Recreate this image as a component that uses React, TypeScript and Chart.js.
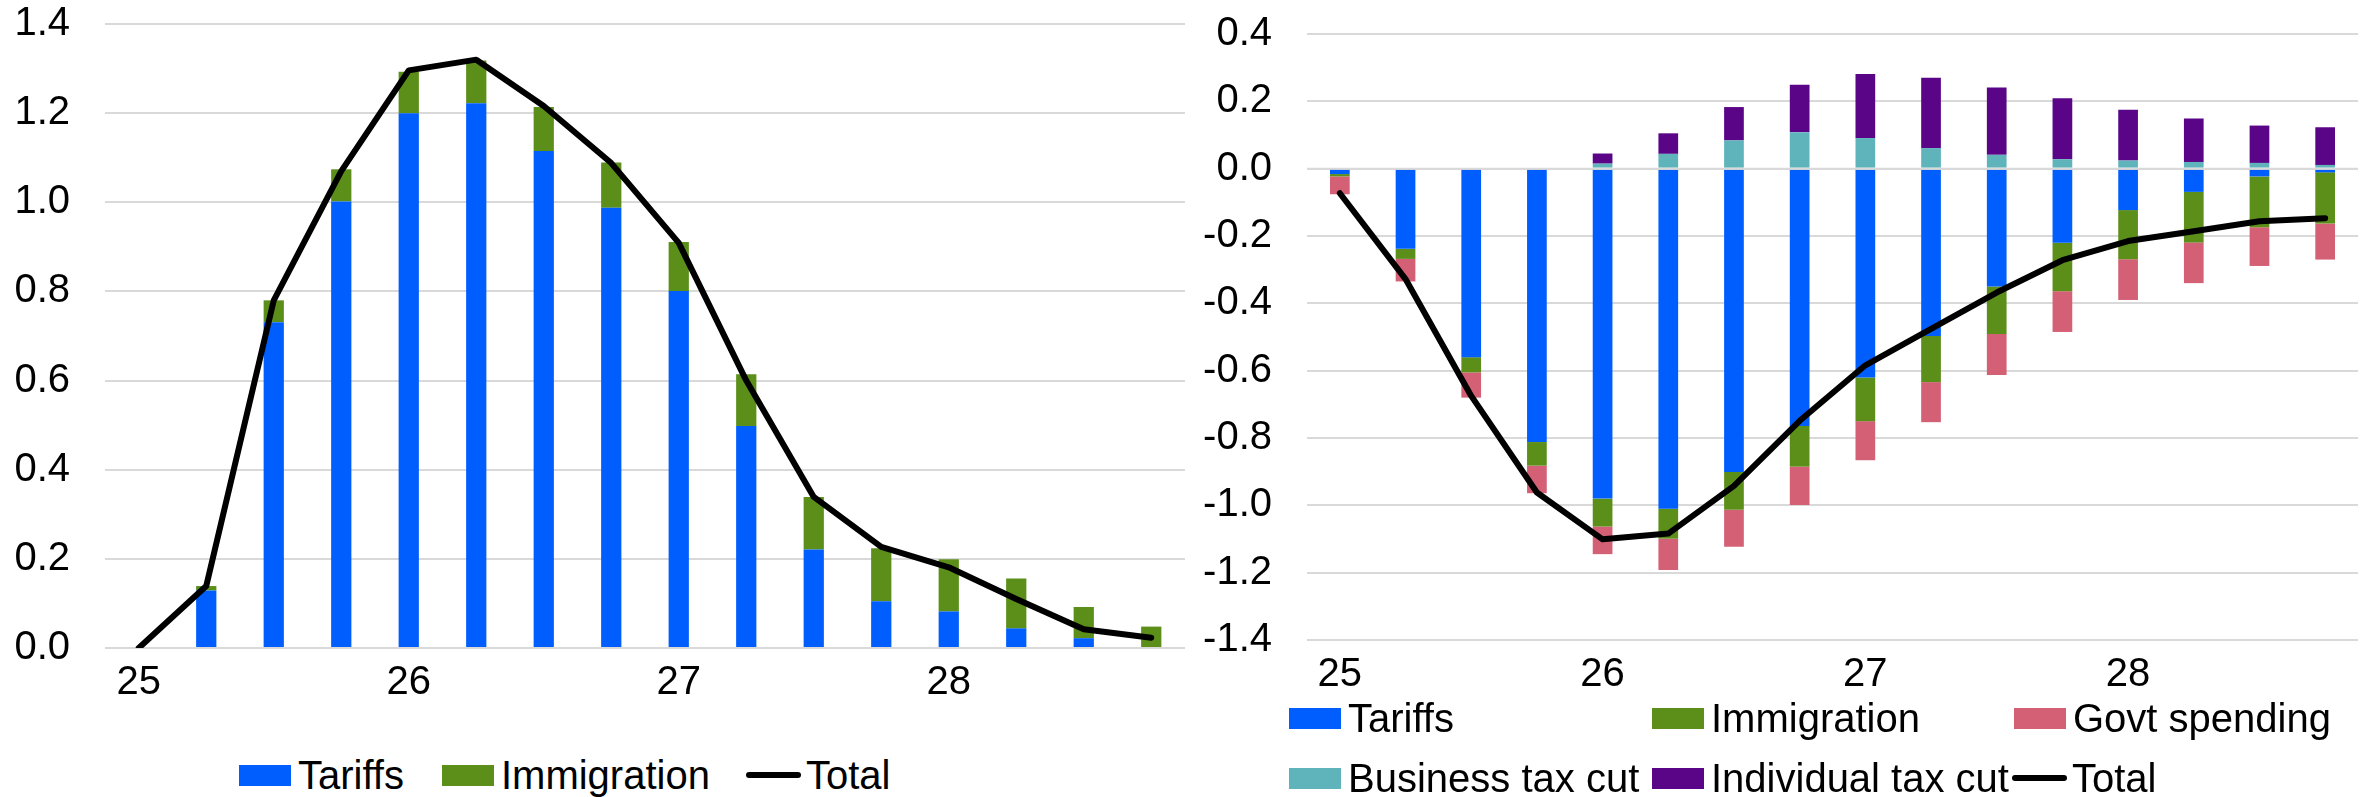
import React, { useEffect, useRef } from "react";
import { Chart, registerables } from "chart.js";

Chart.register(...registerables);

// ---------- Data ----------
const quarters = [
  "2025Q1", "2025Q2", "2025Q3", "2025Q4",
  "2026Q1", "2026Q2", "2026Q3", "2026Q4",
  "2027Q1", "2027Q2", "2027Q3", "2027Q4",
  "2028Q1", "2028Q2", "2028Q3", "2028Q4",
];
const xTickLabels = ["25", "", "", "", "26", "", "", "", "27", "", "", "", "28", "", "", ""];

// Left panel
const leftTariffs = [0, 0.129, 0.731, 1.002, 1.2, 1.222, 1.115, 0.988, 0.801, 0.498, 0.221, 0.105, 0.082, 0.044, 0.022, 0];
const leftImmigration = [0, 0.01, 0.049, 0.072, 0.093, 0.096, 0.099, 0.101, 0.11, 0.116, 0.118, 0.119, 0.117, 0.112, 0.07, 0.048];
const leftTotal = [0, 0.139, 0.78, 1.07, 1.296, 1.32, 1.216, 1.088, 0.909, 0.6, 0.339, 0.227, 0.181, 0.11, 0.042, 0.023];

// Right panel
const rightTariffs = [-0.016, -0.238, -0.56, -0.812, -0.98, -1.01, -0.901, -0.764, -0.62, -0.497, -0.35, -0.22, -0.123, -0.069, -0.023, -0.011];
const rightImmigration = [-0.007, -0.03, -0.045, -0.07, -0.083, -0.089, -0.112, -0.121, -0.13, -0.137, -0.141, -0.144, -0.146, -0.15, -0.151, -0.152];
const rightGovtSpending = [-0.053, -0.067, -0.075, -0.082, -0.082, -0.093, -0.11, -0.114, -0.116, -0.119, -0.122, -0.121, -0.121, -0.121, -0.115, -0.107];
const rightBusinessTax = [0, 0, 0, 0, 0.015, 0.044, 0.084, 0.108, 0.091, 0.061, 0.041, 0.028, 0.024, 0.02, 0.017, 0.011];
const rightIndividualTax = [0, 0, 0, 0, 0.03, 0.061, 0.099, 0.141, 0.19, 0.209, 0.2, 0.181, 0.151, 0.129, 0.111, 0.112];
const rightTotal = [-0.073, -0.328, -0.675, -0.962, -1.101, -1.084, -0.942, -0.749, -0.584, -0.476, -0.368, -0.272, -0.215, -0.186, -0.156, -0.147];

// ---------- Styles ----------
const FONT = "'Liberation Sans', Arial, sans-serif";
const FONT_SIZE = 40;
const COLORS = {
  tariffs: "#005EFF",
  immigration: "#5B8F1A",
  govt: "#D46076",
  business: "#5FB4BC",
  individual: "#5A0587",
  total: "#000000",
};
const GRID = "#d9d9d9";

const fmt = (v: any) => {
  const n = Number(v);
  if (Math.abs(n) < 1e-9) return "0.0";
  return n.toFixed(1);
};

function barDs(label: string, data: number[], color: string) {
  return {
    type: "bar" as const,
    label,
    data,
    backgroundColor: color,
    borderWidth: 0,
    stack: "bars",
    order: 1,
    categoryPercentage: 1,
    barPercentage: 0.3,
  };
}

function lineDs(data: number[]) {
  return {
    type: "line" as const,
    label: "Total",
    data,
    borderColor: COLORS.total,
    backgroundColor: COLORS.total,
    borderWidth: 6,
    pointRadius: 0,
    tension: 0,
    stack: "total",
    order: 0,
    borderCapStyle: "round" as const,
    borderJoinStyle: "round" as const,
  };
}

// Redraws the zero gridline over the bars (as in the reference)
const zeroLinePlugin = {
  id: "zeroLine",
  afterDatasetsDraw(chart: any) {
    const y = chart.scales.y;
    if (!y || y.min >= 0) return;
    const py = y.getPixelForValue(0);
    const { left, right } = chart.chartArea;
    const ctx = chart.ctx;
    ctx.save();
    ctx.strokeStyle = GRID;
    ctx.lineWidth = 2;
    ctx.beginPath();
    ctx.moveTo(left, py);
    ctx.lineTo(right, py);
    ctx.stroke();
    ctx.restore();
  },
};

function makeOptions(min: number, max: number, yWidth: number, padding: any) {
  return {
    animation: false,
    responsive: false,
    maintainAspectRatio: false,
    layout: { padding },
    plugins: { legend: { display: false }, tooltip: { enabled: false } },
    scales: {
      x: {
        stacked: true,
        grid: { display: false, drawTicks: false },
        border: { display: false },
        ticks: {
          autoSkip: false,
          maxRotation: 0,
          minRotation: 0,
          padding: 11,
          color: "#000",
          font: { size: FONT_SIZE, family: FONT },
          callback: (_v: any, i: number) => xTickLabels[i],
        },
        afterFit: (s: any) => {
          s.height = 60;
        },
      },
      y: {
        stacked: true,
        min,
        max,
        grid: {
          color: GRID,
          lineWidth: 2,
          drawTicks: true,
          tickLength: 35,
          tickColor: "rgba(0,0,0,0)",
        },
        border: { display: false },
        ticks: {
          stepSize: 0.2,
          padding: 0,
          color: "#000",
          font: { size: FONT_SIZE, family: FONT },
          callback: fmt,
        },
        afterFit: (s: any) => {
          s.width = yWidth;
        },
      },
    },
  };
}

function ChartCanvas({ config, width, height, left, top }: any) {
  const ref = useRef<HTMLCanvasElement | null>(null);
  useEffect(() => {
    if (!ref.current) return;
    const chart = new Chart(ref.current, config);
    return () => chart.destroy();
  }, []);
  return (
    <canvas
      ref={ref}
      width={width}
      height={height}
      style={{ position: "absolute", left, top, width, height }}
    />
  );
}

type LegendItem = { label: string; color: string; kind: "box" | "line" };

function Marker({ item }: { item: LegendItem }) {
  if (item.kind === "line") {
    return (
      <span
        style={{
          display: "inline-block",
          width: 55,
          height: 6,
          borderRadius: 3,
          background: item.color,
          marginLeft: -2,
          marginRight: 5,
          flex: "none",
        }}
      />
    );
  }
  return (
    <span
      style={{
        display: "inline-block",
        width: 52,
        height: 21,
        background: item.color,
        marginRight: 7,
        flex: "none",
      }}
    />
  );
}

function LegendEntry({ item }: { item: LegendItem }) {
  return (
    <div style={{ display: "flex", alignItems: "center", whiteSpace: "nowrap" }}>
      <Marker item={item} />
      <span>{item.label}</span>
    </div>
  );
}

const leftLegend: LegendItem[] = [
  { label: "Tariffs", color: COLORS.tariffs, kind: "box" },
  { label: "Immigration", color: COLORS.immigration, kind: "box" },
  { label: "Total", color: COLORS.total, kind: "line" },
];
const rightLegend: LegendItem[] = [
  { label: "Tariffs", color: COLORS.tariffs, kind: "box" },
  { label: "Immigration", color: COLORS.immigration, kind: "box" },
  { label: "Govt spending", color: COLORS.govt, kind: "box" },
  { label: "Business tax cut", color: COLORS.business, kind: "box" },
  { label: "Individual tax cut", color: COLORS.individual, kind: "box" },
  { label: "Total", color: COLORS.total, kind: "line" },
];

export default function App() {
  const leftConfig: any = {
    type: "bar",
    data: {
      labels: quarters,
      datasets: [
        barDs("Tariffs", leftTariffs, COLORS.tariffs),
        barDs("Immigration", leftImmigration, COLORS.immigration),
        lineDs(leftTotal),
      ],
    },
    options: makeOptions(0, 1.4, 105, { left: 0, right: 5, top: 0, bottom: 0 }),
  };

  const rightConfig: any = {
    type: "bar",
    data: {
      labels: quarters,
      datasets: [
        barDs("Tariffs", rightTariffs, COLORS.tariffs),
        barDs("Immigration", rightImmigration, COLORS.immigration),
        barDs("Govt spending", rightGovtSpending, COLORS.govt),
        barDs("Business tax cut", rightBusinessTax, COLORS.business),
        barDs("Individual tax cut", rightIndividualTax, COLORS.individual),
        lineDs(rightTotal),
      ],
    },
    options: makeOptions(-1.4, 0.4, 117, { left: 0, right: 16, top: 34, bottom: 0 }),
    plugins: [zeroLinePlugin],
  };

  const textStyle = {
    fontFamily: FONT,
    fontSize: FONT_SIZE,
    lineHeight: "48px",
    color: "#000",
  };

  return (
    <div
      style={{
        position: "absolute",
        left: 0,
        top: 0,
        width: 2374,
        height: 797,
        background: "#fff",
        overflow: "hidden",
      }}
    >
      <ChartCanvas config={leftConfig} width={1190} height={708} left={0} top={0} />
      <ChartCanvas config={rightConfig} width={1184} height={700} left={1190} top={0} />
      <div
        style={{
          ...textStyle,
          position: "absolute",
          left: 239,
          top: 751,
          display: "flex",
          gap: 38,
        }}
      >
        {leftLegend.map((it) => (
          <LegendEntry key={it.label} item={it} />
        ))}
      </div>
      <div
        style={{
          ...textStyle,
          position: "absolute",
          left: 1289,
          top: 694,
          display: "grid",
          gridTemplateColumns: "363px 362px 362px",
          rowGap: 12,
        }}
      >
        {rightLegend.map((it) => (
          <LegendEntry key={it.label} item={it} />
        ))}
      </div>
    </div>
  );
}
